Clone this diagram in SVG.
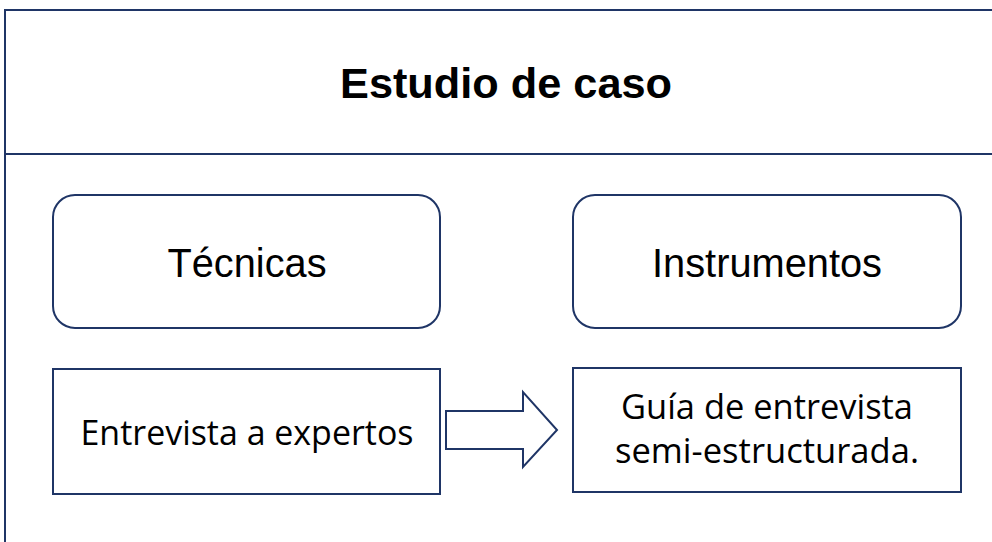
<svg xmlns="http://www.w3.org/2000/svg" width="992" height="542" viewBox="0 0 992 542">
<style>
.ln{fill:none;stroke:#1f3566;stroke-width:2}
.bx{fill:#fff;stroke:#1f3566;stroke-width:2}
.t1{font-family:"Liberation Sans",Arial,sans-serif;font-weight:bold;font-size:43px;fill:#000;text-anchor:middle}
.t2{font-family:"Liberation Sans",Arial,sans-serif;font-size:40px;fill:#000;text-anchor:middle}
.t3{font-family:"Open Sans","Noto Sans",sans-serif;font-size:34px;fill:#000;text-anchor:middle}
</style>
<rect width="992" height="542" fill="#fff"/>
<g id="frame">
<path class="ln" d="M5,545 V10 H995"/>
<line class="ln" x1="5" y1="154" x2="995" y2="154"/>
<text class="t1" x="506" y="98" textLength="332" lengthAdjust="spacingAndGlyphs">Estudio de caso</text>
</g>
<g id="tecnicas">
<rect class="bx" x="53" y="195" width="387" height="133" rx="22"/>
<text class="t2" x="247" y="277" textLength="159" lengthAdjust="spacingAndGlyphs">Técnicas</text>
</g>
<g id="instrumentos">
<rect class="bx" x="573" y="195" width="388" height="133" rx="22"/>
<text class="t2" x="767" y="277" textLength="230" lengthAdjust="spacingAndGlyphs">Instrumentos</text>
</g>
<g id="entrevista">
<rect class="bx" x="53" y="369" width="387" height="125"/>
<text class="t3" x="247" y="445" textLength="333" lengthAdjust="spacingAndGlyphs">Entrevista a expertos</text>
</g>
<g id="guia">
<rect class="bx" x="573" y="368" width="388" height="124"/>
<text class="t3" x="767" y="419" textLength="292" lengthAdjust="spacingAndGlyphs">Guía de entrevista</text>
<text class="t3" x="767" y="463" textLength="304" lengthAdjust="spacingAndGlyphs">semi-estructurada.</text>
</g>
<g id="connectors">
<path class="bx" d="M446,411 H523 V392 L557,430 L523,467 V449 H446 Z"/>
</g>
</svg>
